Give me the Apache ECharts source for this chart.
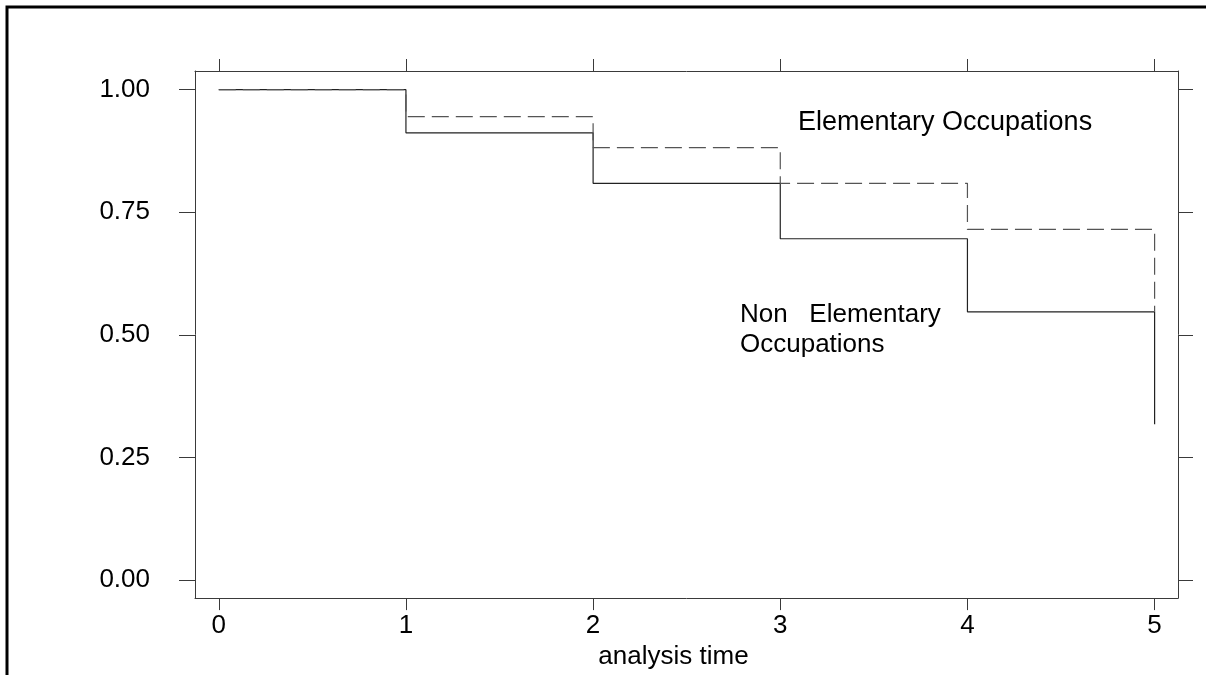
<!DOCTYPE html>
<html>
<head>
<meta charset="utf-8">
<script src="https://cdn.jsdelivr.net/npm/echarts@6/dist/echarts.min.js"></script>
<style>
html,body{margin:0;padding:0;background:#fff;}
#chart{width:1206px;height:675px;}
</style>
</head>
<body>
<div id="chart"></div>
<script>
// Data
var times = [0, 1, 2, 3, 4, 5];
var nonElementary = [1.000, 0.912, 0.809, 0.696, 0.547, 0.318];
var elementary = [1.000, 0.945, 0.882, 0.809, 0.715, 0.547];
var xTicks = [0, 1, 2, 3, 4, 5];
var yTicks = [0, 0.25, 0.5, 0.75, 1];
var xTitle = 'analysis time';
var labelElem = 'Elementary Occupations';
var labelNonElem = 'Non   Elementary\nOccupations';

function pairs(xs, ys) { return xs.map(function (x, i) { return [x, ys[i]]; }); }

var FONT = '"Liberation Sans", Arial, sans-serif';
var AX = '#3a3a3a';

var chart = echarts.init(document.getElementById('chart'), null, { renderer: 'canvas' });
var xMin = -0.127, xMax = 5.125, yMin = -0.0365, yMax = 1.038;

chart.setOption({
  animation: false,
  backgroundColor: '#fff',
  grid: { left: 195, top: 71, right: 28, bottom: 75, containLabel: false },
  xAxis: [
    {
      type: 'value', position: 'bottom', min: xMin, max: xMax,
      axisLine: { show: true, onZero: false, lineStyle: { color: AX, width: 1 } },
      axisTick: { show: true, inside: false, length: 12, customValues: xTicks, lineStyle: { color: AX } },
      axisLabel: { show: true, customValues: xTicks, margin: 15, color: '#000', fontFamily: FONT, fontSize: 26,
        formatter: function (v) { return String(v); } },
      splitLine: { show: false },
      name: xTitle, nameLocation: 'middle', nameGap: 36,
      nameTextStyle: { color: '#000', fontFamily: FONT, fontSize: 26, padding: [0, 26, 0, 0] }
    },
    {
      type: 'value', position: 'top', min: xMin, max: xMax,
      axisLine: { show: true, onZero: false, lineStyle: { color: AX, width: 1 } },
      axisTick: { show: true, inside: false, length: 12, customValues: xTicks, lineStyle: { color: AX } },
      axisLabel: { show: false },
      splitLine: { show: false }
    }
  ],
  yAxis: [
    {
      type: 'value', position: 'left', min: yMin, max: yMax,
      axisLine: { show: true, onZero: false, lineStyle: { color: AX, width: 1 } },
      axisTick: { show: true, inside: false, length: 16, customValues: yTicks, lineStyle: { color: AX } },
      axisLabel: { show: true, customValues: yTicks, margin: 45, color: '#000', fontFamily: FONT, fontSize: 26,
        padding: [10, 0, 0, 0],
        formatter: function (v) { return v.toFixed(2); } },
      splitLine: { show: false }
    },
    {
      type: 'value', position: 'right', min: yMin, max: yMax,
      axisLine: { show: true, onZero: false, lineStyle: { color: AX, width: 1 } },
      axisTick: { show: true, inside: false, length: 15, customValues: yTicks, lineStyle: { color: AX } },
      axisLabel: { show: false },
      splitLine: { show: false }
    }
  ],
  series: [
    {
      name: 'Non Elementary Occupations', type: 'line', step: 'end',
      data: pairs(times, nonElementary), showSymbol: false, symbol: 'none',
      lineStyle: { color: '#222', width: 1.2, type: 'solid' }, z: 2
    },
    {
      name: 'Elementary Occupations', type: 'line', step: 'end',
      data: pairs(times, elementary), showSymbol: false, symbol: 'none',
      lineStyle: { color: '#555', width: 1.2, type: [17, 7] }, z: 3
    }
  ],
  graphic: [
    { type: 'rect', shape: { x: 7, y: 7, width: 1400, height: 900 }, style: { fill: 'none', stroke: '#000', lineWidth: 3 }, silent: true },
    { type: 'text', left: 798, top: 109, style: { text: labelElem, fill: '#000', font: '27px ' + FONT } },
    { type: 'text', left: 740, top: 300, style: { text: labelNonElem, fill: '#000', font: '26px ' + FONT, lineHeight: 30 } }
  ]
});
</script>
</body>
</html>
